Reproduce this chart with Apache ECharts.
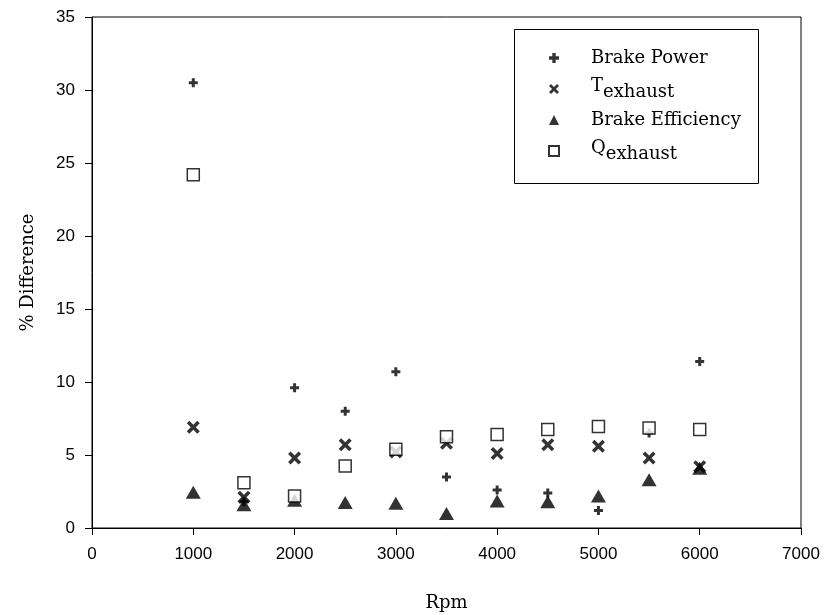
<!DOCTYPE html>
<html>
<head>
<meta charset="utf-8">
<script src="https://cdn.jsdelivr.net/npm/echarts@6/dist/echarts.min.js"></script>
<style>html,body{margin:0;padding:0;background:#fff}#c{width:824px;height:615px}</style>
</head>
<body>
<div id="c"></div>
<script>
const rpm = [1000, 1500, 2000, 2500, 3000, 3500, 4000, 4500, 5000, 5500, 6000];
const brakePower = [30.5, 1.8, 9.6, 8.0, 10.7, 3.5, 2.6, 2.4, 1.2, 6.5, 11.4];
const tExhaust = [6.9, 2.1, 4.8, 5.7, 5.2, 5.8, 5.1, 5.7, 5.6, 4.8, 4.2];
const brakeEff = [2.45, 1.6, 1.9, 1.75, 1.7, 1.0, 1.85, 1.8, 2.2, 3.3, 4.1];
const qExhaust = [24.2, 3.1, 2.2, 4.25, 5.4, 6.25, 6.4, 6.75, 6.95, 6.85, 6.75];
const seriesNames = ['Brake Power', 'Texhaust', 'Brake Efficiency', 'Qexhaust'];

const pair = (xs, ys) => xs.map((x, i) => [x, ys[i]]);
const PLUS = 'path://M3,0h3v3h3v3h-3v3h-3v-3h-3v-3h3z';
const CROSS = 'path://M0,2.5L2.5,0L6.5,4L10.5,0L13,2.5L9,6.5L13,10.5L10.5,13L6.5,9L2.5,13L0,10.5L4,6.5Z';
const serif = 'DejaVu Serif';
const sans = 'Liberation Sans';

const chart = echarts.init(document.getElementById('c'));
chart.setOption({
  animation: false,
  backgroundColor: '#fff',
  grid: { left: 92, right: 23, top: 17, bottom: 87, show: true, borderColor: '#000', borderWidth: 1, containLabel: false, outerBoundsMode: 'none' },
  xAxis: {
    type: 'value', min: 0, max: 7000, interval: 1000,
    name: 'Rpm', nameLocation: 'middle', nameGap: 66,
    nameTextStyle: { fontFamily: serif, fontSize: 18, color: '#000' },
    axisLine: { onZero: false, lineStyle: { color: '#000', width: 1 } },
    axisTick: { show: true, length: 7, inside: false, lineStyle: { color: '#000' } },
    axisLabel: { margin: 18, fontFamily: sans, fontSize: 17, color: '#000', formatter: v => String(v) },
    splitLine: { show: false }
  },
  yAxis: {
    type: 'value', min: 0, max: 35, interval: 5,
    name: '% Difference', nameLocation: 'middle', nameGap: 55, nameRotate: 90,
    nameTextStyle: { fontFamily: serif, fontSize: 18, color: '#000' },
    axisLine: { show: true, onZero: false, lineStyle: { color: '#000', width: 1 } },
    axisTick: { show: true, length: 7, inside: false, lineStyle: { color: '#000' } },
    axisLabel: { margin: 17, fontFamily: sans, fontSize: 17, color: '#000' },
    splitLine: { show: false }
  },
  legend: {
    orient: 'vertical', left: 548, top: 49, padding: 0,
    itemWidth: 10, itemHeight: 10, itemGap: 10,
    data: [
      { name: seriesNames[0], icon: PLUS },
      { name: seriesNames[1], icon: CROSS },
      { name: seriesNames[2], icon: 'triangle' },
      { name: seriesNames[3], icon: 'rect' }
    ],
    formatter: function (name) {
      if (name === 'Texhaust') return '{a|T}{b|exhaust}';
      if (name === 'Qexhaust') return '{a|Q}{b|exhaust}';
      return '{n|' + name + '}';
    },
    textStyle: {
      fontFamily: serif, fontSize: 18, color: '#000', padding: [0, 0, 0, 27],
      rich: {
        n: { fontFamily: serif, fontSize: 18, color: '#000', lineHeight: 21 },
        a: { fontFamily: serif, fontSize: 18, color: '#000', lineHeight: 20, padding: [0, 0, 6, 0] },
        b: { fontFamily: serif, fontSize: 18, color: '#000', lineHeight: 20, padding: [6, 0, 0, 0] }
      }
    }
  },
  graphic: [{
    type: 'rect', left: 512, top: 27, z: 100, silent: true,
    shape: { width: 244, height: 154 },
    style: { fill: 'none', stroke: '#000', lineWidth: 1 }
  }],
  series: [
    { name: seriesNames[0], type: 'scatter', data: pair(rpm, brakePower), symbol: PLUS, symbolSize: 9, itemStyle: { color: '#000' }, z: 4 },
    { name: seriesNames[1], type: 'scatter', data: pair(rpm, tExhaust), symbol: CROSS, symbolSize: 13, itemStyle: { color: '#000' }, z: 3 },
    { name: seriesNames[2], type: 'scatter', data: pair(rpm, brakeEff), symbol: 'triangle', symbolSize: [15, 13], itemStyle: { color: '#000' }, z: 2 },
    { name: seriesNames[3], type: 'scatter', data: pair(rpm, qExhaust), symbol: 'rect', symbolSize: 12, itemStyle: { color: '#fff', borderColor: '#000', borderWidth: 1.5 }, z: 5 }
  ]
});
</script>
</body>
</html>
